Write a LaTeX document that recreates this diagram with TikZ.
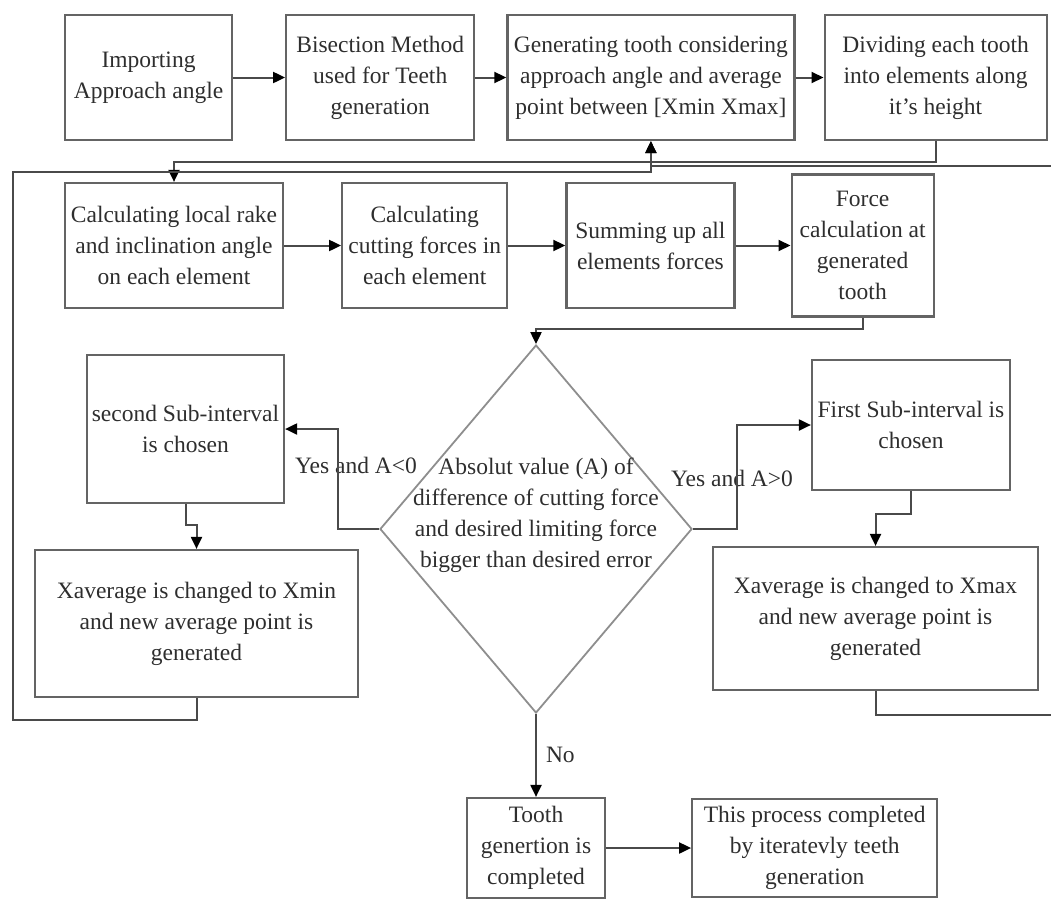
\documentclass[tikz,border=0pt]{standalone}
\usepackage{fontspec}
\setmainfont{Liberation Serif}
\usetikzlibrary{positioning, arrows.meta, shapes.geometric}
\definecolor{boxgray}{HTML}{646464}
\definecolor{linegray}{HTML}{4A4A4A}
\definecolor{textgray}{HTML}{2E2E2E}
\definecolor{decgray}{HTML}{8E8E8E}

\begin{document}
\begin{tikzpicture}[
    x=1pt, y=-1pt,
    txt/.style={text=textgray, font=\fontsize{23.5}{31}\selectfont, align=center, inner sep=0pt},
    box/.style={txt, draw=boxgray, line width=2.2pt, rectangle, minimum height=125},
    dec/.style={draw=decgray, line width=1.8pt, diamond, minimum width=312, minimum height=368, inner sep=0pt},
    arr/.style={-{Triangle[length=12pt, width=11pt, color=black]}, draw=linegray, line width=2pt}
]
    \useasboundingbox (0,0) rectangle (1051,900);

    \node[box, minimum width=167] (imp) at (148.5,77.5) {Importing\\Approach angle};
    \node[box, minimum width=188] (bis) [right=52pt of imp] {Bisection Method\\used for Teeth\\generation};
    \node[box, minimum width=287] (gen) [right=31pt of bis] {Generating tooth considering\\approach angle and average\\point between [Xmin Xmax]};
    \node[box, minimum width=222] (div) [right=28pt of gen] {Dividing each tooth\\into elements along\\it's height};

    \node[box, minimum width=218] (calc) at (174,245.5) {Calculating local rake\\and inclination angle\\on each element};
    \node[box, minimum width=165] (cut) [right=57pt of calc] {Calculating\\cutting forces in\\each element};
    \node[box, minimum width=168] (sum) [right=57pt of cut] {Summing up all\\elements forces};
    \node[box, minimum width=142, minimum height=142] (force) [right=55pt of sum] {Force\\calculation at\\generated\\tooth};

    \node[dec] (check) at (536,529) {};
    \node[txt] (checktxt) at (536,515) {Absolut value (A) of\\difference of cutting force\\and desired limiting force\\bigger than desired error};

    \node[box, minimum width=197, minimum height=148] (sec) at (185.5,429) {second Sub-interval\\is chosen};
    \node[box, minimum width=323, minimum height=147] (xmin) at (196.5,623.5) {Xaverage is changed to Xmin\\and new average point is\\generated};
    \node[box, minimum width=198, minimum height=130] (first) at (911,425) {First Sub-interval is\\chosen};
    \node[box, minimum width=325, minimum height=143] (xmax) at (875.5,618.5) {Xaverage is changed to Xmax\\and new average point is\\generated};

    \node[box, minimum width=138, minimum height=100] (tooth) at (536,848) {Tooth\\genertion is\\completed};
    \node[box, minimum width=245, minimum height=98] (iter) [right=85pt of tooth] {This process completed\\by iteratevly teeth\\generation};

    \node[txt] (yesneg) at (356,465) {Yes and A<0};
    \node[txt] (yespos) at (732,478) {Yes and A>0};

    \draw[arr] (imp) -- (bis);
    \draw[arr] (bis) -- (gen);
    \draw[arr] (gen) -- (div);
    \draw[arr] (div.south) -- ++(0,21) -| (calc.north);
    \draw[arr] (calc) -- (cut);
    \draw[arr] (cut) -- (sum);
    \draw[arr] (sum) -- (force);
    \draw[arr] (force.south) -- ++(0,11) -| (check.north);
    \draw[arr] (check.west) -- ++(-41,0) |- (sec.east);
    \draw[arr] (check.east) -- ++(44,0) |- (first.west);
    \draw[arr] (sec.south) -- ++(0,21) -| (xmin.north);
    \draw[arr] (first.south) -- ++(0,23) -| (xmax.north);
    \draw[arr] (xmin.south) -- ++(0,22) -| (13,172) -| (gen.south);
    \draw[arr] (xmax.south) -- ++(0,24) -| (1053,166) -| (gen.south);
    \draw[arr] (check.south) -- node[txt, right=9pt] (nolbl) {No} (tooth.north);
    \draw[arr] (tooth) -- (iter);
\end{tikzpicture}
\end{document}
